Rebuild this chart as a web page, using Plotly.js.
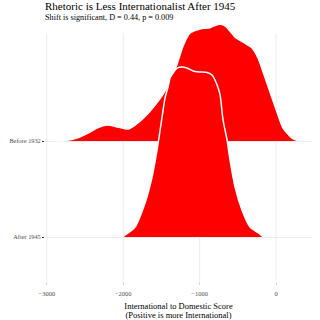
<!DOCTYPE html>
<html>
<head>
<meta charset="utf-8">
<script src="https://cdn.plot.ly/plotly-3.0.1.min.js"></script>
<style>html,body{margin:0;padding:0;background:#fff;}#chart{width:320px;height:320px;}</style>
</head>
<body>
<div id="chart"></div>
<script>
// Categories (bottom to top)
const categories = ["After 1945", "Before 1932"];
const xTicks = [-3000, -2000, -1000, 0];

// Before 1932 ridge: score vs scaled density height
const beforeX = [-2865, -2762, -2605, -2435, -2343, -2212, -2068, -1937, -1846, -1741, -1649, -1558, -1492, -1427, -1361, -1296, -1217, -1126, -995, -864, -759, -668, -537, -432, -314, -236, -170, -79, 13, 92, 209, 311];
const beforeDensity = [0, 0.005, 0.031, 0.094, 0.135, 0.167, 0.146, 0.125, 0.165, 0.235, 0.31, 0.40, 0.47, 0.56, 0.67, 0.80, 0.99, 1.125, 1.167, 1.18, 1.215, 1.20, 1.083, 1.03, 0.97, 0.865, 0.72, 0.51, 0.30, 0.135, 0.031, 0];

// After 1945 ridge
const afterX = [-2016, -1846, -1715, -1623, -1558, -1492, -1453, -1414, -1388, -1348, -1296, -1230, -1165, -1086, -995, -903, -838, -772, -733, -694, -641, -602, -537, -445, -340, -209, -170];
const afterDensity = [0, 0.104, 0.354, 0.625, 0.906, 1.25, 1.45, 1.5625, 1.656, 1.708, 1.76, 1.771, 1.76, 1.729, 1.719, 1.714, 1.6875, 1.583, 1.48, 1.219, 1.01, 0.80, 0.52, 0.28, 0.104, 0.03, 0];

const ridges = [
  {name: categories[1], pos: 1, x: beforeX, d: beforeDensity},
  {name: categories[0], pos: 0, x: afterX, d: afterDensity}
];

const traces = [];
ridges.forEach(r => {
  const xmin = Math.min(...r.x), xmax = Math.max(...r.x);
  traces.push({
    x: [xmin, xmax], y: [r.pos, r.pos], type: 'scatter', mode: 'lines',
    line: {width: 0, color: 'rgba(0,0,0,0)'}, hoverinfo: 'skip', showlegend: false
  });
  traces.push({
    x: r.x, y: r.d.map(v => r.pos + v), type: 'scatter', mode: 'lines',
    name: r.name, fill: 'tonexty', fillcolor: '#ff0000',
    line: {color: '#ffffff', width: 1.5, shape: 'spline', smoothing: 0.7},
    showlegend: false
  });
});

const yBottom = -0.458, yTop = 2.219;
const gridTop = (281 - 33) / 257;
const shapes = xTicks.map(v => ({
  type: 'line', xref: 'x', yref: 'paper', x0: v, x1: v, y0: 0, y1: gridTop,
  line: {color: '#ebebeb', width: 1}, layer: 'below'
}));

const font = "Liberation Serif, Times New Roman, serif";
const layout = {
  width: 320, height: 320,
  margin: {l: 45, r: 8, t: 24, b: 39},
  paper_bgcolor: '#ffffff', plot_bgcolor: '#ffffff',
  font: {family: font, color: '#1a1a1a'},
  title: {
    text: 'Rhetoric is Less Internationalist After 1945',
    font: {family: font, size: 11, color: '#000000'},
    x: 45/320, xanchor: 'left', xref: 'container',
    y: 1 - 2/320, yanchor: 'top', yref: 'container'
  },
  annotations: [{
    text: 'Shift is significant, D = 0.44, p = 0.009',
    xref: 'paper', yref: 'paper', x: 0, y: (281 - 17) / 257,
    xanchor: 'left', yanchor: 'middle', showarrow: false, borderpad: 0, xshift: -1,
    font: {family: font, size: 8.2, color: '#000000'}
  }],
  xaxis: {
    range: [-3024, 470], tickvals: xTicks, showgrid: false, zeroline: false,
    ticks: 'outside', ticklen: 3, tickcolor: '#d9d9d9', showline: false,
    ticklabelstandoff: 3,
    tickfont: {family: font, size: 6.5, color: '#4d4d4d'},
    title: {
      text: '<span style="font-size:8.5px">International to Domestic Score</span><br><span style="font-size:8.5px">(Positive is more International)</span>',
      font: {family: font, size: 7, color: '#000000'}, standoff: 8
    }
  },
  yaxis: {
    range: [yBottom, yTop], tickvals: [0, 1], ticktext: categories,
    showgrid: true, gridcolor: '#ebebeb', gridwidth: 1, zeroline: false,
    ticks: 'outside', ticklen: 2, tickcolor: '#333333',
    tickfont: {family: font, size: 6.3, color: '#4d4d4d'}
  },
  shapes: shapes
};

Plotly.newPlot('chart', traces, layout, {displayModeBar: false, staticPlot: true});
</script>
</body>
</html>
